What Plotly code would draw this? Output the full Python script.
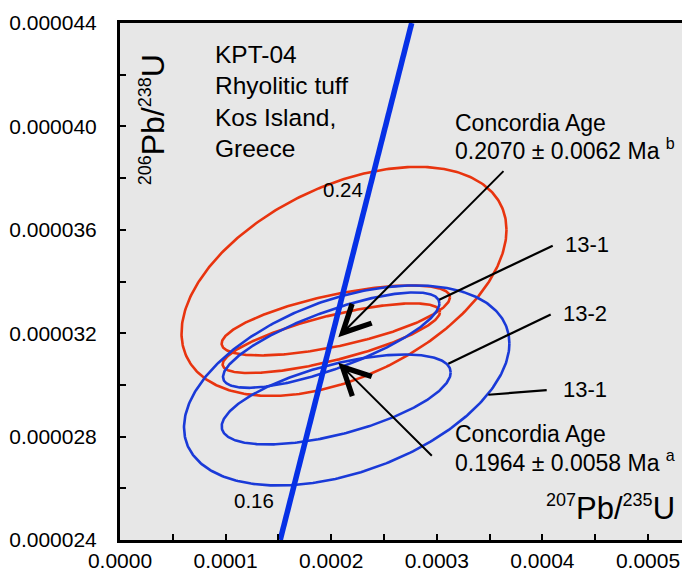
import numpy as np
import plotly.graph_objects as go

# ---------------- data ----------------
# x-axis (207Pb/235U) ticks
x_tick_vals = [0.0, 0.0001, 0.0002, 0.0003, 0.0004, 0.0005]
x_tick_labels = ["0.0000", "0.0001", "0.0002", "0.0003", "0.0004", "0.0005"]
# y-axis (206Pb/238U) ticks
y_tick_vals = [0.000024, 0.000028, 0.000032, 0.000036, 0.000040, 0.000044]
y_tick_labels = ["0.000024", "0.000028", "0.000032", "0.000036", "0.000040", "0.000044"]

# Concordia curve
conc_x = [0.0001517, 0.00027623]
conc_y = [0.000024, 0.000044]

# Error ellipses: centre, half x-extent, half y-extent, correlation
red_cx = [0.00021212, 0.00020436, 0.00020009]
red_cy = [0.000034004, 0.000032494, 0.000031806]
red_sx = [0.00015388, 0.00010814, 0.00010294]
red_sy = [4.431e-6, 1.3545e-6, 1.3468e-6]
red_rho = [0.45, 0.66, 0.75]

blue_cx = [0.00021468, 0.00020000, 0.00020473]
blue_cy = [0.000029979, 0.000031732, 0.000029437]
blue_sx = [0.00015407, 0.00010246, 0.00010843]
blue_sy = [3.870e-6, 1.846e-6, 1.7415e-6]
blue_rho = [0.42, 0.77, 0.60]

# Concordia-age arrows: tip (x, y) and tail (ax, ay)
arrow_tip_x = [0.00020672, 0.00020672]
arrow_tip_y = [0.000031848, 0.000030857]
arrow_tail_x = [0.00036458, 0.00029669]
arrow_tail_y = [0.000038327, 0.000027204]

# Leader lines for spot labels
leader_x0 = [0.00030237, 0.00031089, 0.00034877]
leader_y0 = [0.000033296, 0.000030819, 0.000029619]
leader_x1 = [0.00040975, 0.00040786, 0.00040407]
leader_y1 = [0.000035385, 0.000032727, 0.000029797]
spot_labels = ["13-1", "13-2", "13-1"]
spot_label_x = [0.00041979, 0.00041733, 0.00041761]
spot_label_y = [0.000035436, 0.000032754, 0.000029805]

# Concordia age tick labels (Ma)
age_labels = ["0.24", "0.16"]
age_label_x = [0.00021117, 0.00012689]
age_label_y = [0.000037553, 0.000025528]

sample_lines = ["KPT-04", "Rhyolitic tuff", "Kos Island,", "Greece"]
sample_x = 0.00008835
sample_y = [0.000042793, 0.000041581, 0.000040343, 0.000039132]

age_b_lines = ["Concordia Age", "0.2070 ± 0.0062 Ma <sup>b</sup>"]
age_b_y = [0.000040142, 0.000039135]
age_a_lines = ["Concordia Age", "0.1964 ± 0.0058 Ma <sup>a</sup>"]
age_a_y = [0.000028083, 0.000027038]
age_text_x = 0.00031563

x_range = [0.0, 0.00053977]
y_range = [0.000024, 0.000044]

# ---------------- styles ----------------
RED = "#e8340f"
BLUE = "#1a3ad8"
CONC = "#0630e6"
FONT = "Liberation Sans, Arial, sans-serif"

fig = go.Figure()

t = np.linspace(0, 2 * np.pi, 361)


def ellipse(cx, cy, sx, sy, rho):
    ex = cx + sx * np.cos(t)
    ey = cy + sy * (rho * np.cos(t) + np.sqrt(1 - rho ** 2) * np.sin(t))
    return ex, ey


for i in range(len(red_cx)):
    ex, ey = ellipse(red_cx[i], red_cy[i], red_sx[i], red_sy[i], red_rho[i])
    fig.add_trace(go.Scatter(x=ex, y=ey, mode="lines",
                             line=dict(color=RED, width=2.6), hoverinfo="skip"))
for i in range(len(blue_cx)):
    ex, ey = ellipse(blue_cx[i], blue_cy[i], blue_sx[i], blue_sy[i], blue_rho[i])
    fig.add_trace(go.Scatter(x=ex, y=ey, mode="lines",
                             line=dict(color=BLUE, width=2.6), hoverinfo="skip"))

fig.add_trace(go.Scatter(x=conc_x, y=conc_y, mode="lines",
                         line=dict(color=CONC, width=5.5), hoverinfo="skip"))

annotations = []
for i in range(len(arrow_tip_x)):
    annotations.append(dict(x=arrow_tip_x[i], y=arrow_tip_y[i],
                            ax=arrow_tail_x[i], ay=arrow_tail_y[i],
                            xref="x", yref="y", axref="x", ayref="y",
                            text="", showarrow=True, arrowhead=5,
                            arrowsize=2.7, arrowwidth=2, arrowcolor="black"))

shapes = []
for i in range(len(leader_x0)):
    shapes.append(dict(type="line", xref="x", yref="y",
                       x0=leader_x0[i], y0=leader_y0[i],
                       x1=leader_x1[i], y1=leader_y1[i],
                       line=dict(color="black", width=2.2)))

for i, s in enumerate(spot_labels):
    annotations.append(dict(x=spot_label_x[i], y=spot_label_y[i], xref="x", yref="y",
                            text=s, showarrow=False, xanchor="left", yanchor="middle",
                            font=dict(family=FONT, size=22, color="black")))

for i, s in enumerate(age_labels):
    annotations.append(dict(x=age_label_x[i], y=age_label_y[i], xref="x", yref="y",
                            text=s, showarrow=False, xanchor="center", yanchor="middle",
                            font=dict(family=FONT, size=20.5, color="black")))

for i, s in enumerate(sample_lines):
    annotations.append(dict(x=sample_x, y=sample_y[i], xref="x", yref="y",
                            text=s, showarrow=False, xanchor="left", yanchor="middle",
                            font=dict(family=FONT, size=24.5, color="black")))

for lines, ys in ((age_b_lines, age_b_y), (age_a_lines, age_a_y)):
    for i, s in enumerate(lines):
        annotations.append(dict(x=age_text_x, y=ys[i], xref="x", yref="y",
                                text=s, showarrow=False, xanchor="left", yanchor="middle",
                                font=dict(family=FONT, size=23, color="black")))

# axis titles drawn inside the plot
SUP = '<sup><span style="font-size:18px">{}</span></sup>'
annotations.append(dict(x=0.00052775, y=0.000024453, xref="x", yref="y",
                        text=SUP.format("207") + "Pb/" + SUP.format("235") + "U",
                        showarrow=False, xanchor="right", yanchor="bottom",
                        font=dict(family=FONT, size=31, color="black")))
annotations.append(dict(x=0.00003125, y=0.000040234, xref="x", yref="y",
                        text=SUP.format("206") + "Pb/" + SUP.format("238") + "U",
                        textangle=-90, showarrow=False, xanchor="center", yanchor="middle",
                        font=dict(family=FONT, size=32, color="black")))

# the page body has an 8px margin, so the figure is 8px smaller and margins shifted
fig.update_layout(
    width=682, height=569,
    margin=dict(l=112, r=0, t=15, b=37),
    paper_bgcolor="white",
    plot_bgcolor="#e7e7e7",
    showlegend=False,
    font=dict(family=FONT, size=21, color="black"),
    annotations=annotations,
    shapes=shapes,
)

fig.update_xaxes(
    range=x_range, tickvals=x_tick_vals, ticktext=x_tick_labels,
    showline=True, linecolor="black", linewidth=3, mirror=True,
    ticks="inside", ticklen=6, tickwidth=2, tickcolor="black",
    minor=dict(dtick=0.00005, ticks="inside", ticklen=6, tickwidth=2, tickcolor="black"),
    showgrid=False, zeroline=False, ticklabelstandoff=0, automargin=False,
    tickfont=dict(family=FONT, size=21, color="black"),
)
fig.update_yaxes(
    range=y_range, tickvals=y_tick_vals, ticktext=y_tick_labels,
    showline=True, linecolor="black", linewidth=3, mirror=False,
    ticks="inside", ticklen=6, tickwidth=2, tickcolor="black",
    minor=dict(dtick=0.000002, ticks="inside", ticklen=6, tickwidth=2, tickcolor="black"),
    showgrid=False, zeroline=False, ticklabelstandoff=16, automargin=False,
    tickfont=dict(family=FONT, size=21, color="black"),
)

fig.write_html("out.html")
